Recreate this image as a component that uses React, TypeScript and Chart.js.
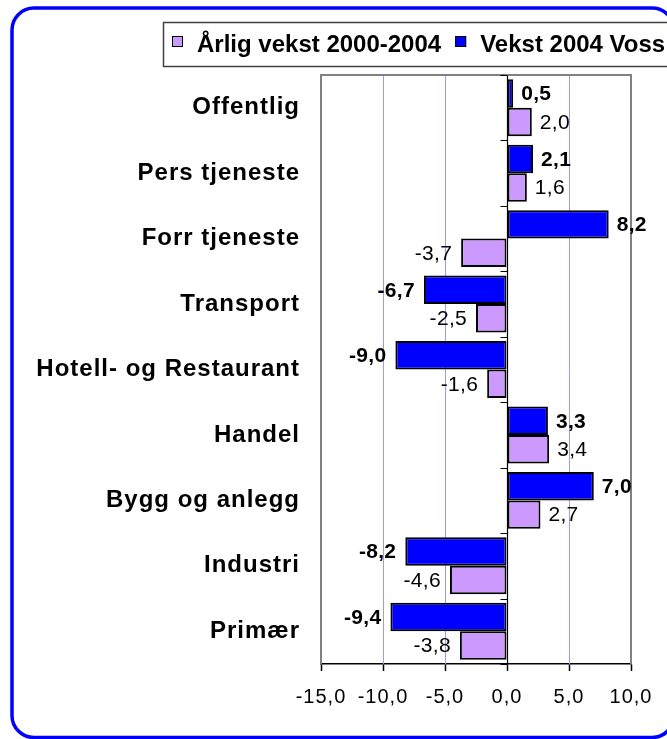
import { useEffect, useRef } from 'react';
import { Chart, registerables } from 'chart.js';

Chart.register(...registerables);

const categories = [
  'Offentlig',
  'Pers tjeneste',
  'Forr tjeneste',
  'Transport',
  'Hotell- og Restaurant',
  'Handel',
  'Bygg og anlegg',
  'Industri',
  'Primær',
];
const seriesNames = ['Årlig vekst 2000-2004', 'Vekst 2004 Voss'];
const annualGrowth = [2.0, 1.6, -3.7, -2.5, -1.6, 3.4, 2.7, -4.6, -3.8];
const vossGrowth = [0.5, 2.1, 8.2, -6.7, -9.0, 3.3, 7.0, -8.2, -9.4];
const xTickValues = [-15, -10, -5, 0, 5, 10];

const LAVENDER = '#CC99FF';
const BLUE = '#0000FF';
const GRID_BLUE = '#9999FF';
const FONT = "'Liberation Sans', Arial, Helvetica, sans-serif";
const fmt = (v: number) => v.toFixed(1).replace('.', ',');

const tickValueAt = (c: any) => {
  if (c && c.tick && typeof c.tick.value === 'number') return c.tick.value;
  if (c && typeof c.index === 'number') return xTickValues[c.index];
  return null;
};

const spacingPlugin = {
  id: 'spacing',
  beforeDraw(chart: any) {
    (chart.ctx as any).letterSpacing = '1px';
  },
};

const plotBorderPlugin = {
  id: 'plotBorder',
  beforeDatasetsDraw(chart: any) {
    const { ctx, chartArea: a } = chart;
    const xs = chart.scales.x;
    ctx.save();
    // inner vertical gridlines (light blue)
    ctx.strokeStyle = GRID_BLUE;
    ctx.lineWidth = 1;
    xTickValues.forEach((v) => {
      if (v === 0 || v === xTickValues[0] || v === xTickValues[xTickValues.length - 1]) return;
      const x = Math.round(xs.getPixelForValue(v)) + 0.5;
      ctx.beginPath();
      ctx.moveTo(x, a.top);
      ctx.lineTo(x, a.bottom);
      ctx.stroke();
    });
    // zero line
    ctx.strokeStyle = '#000';
    ctx.lineWidth = 1.2;
    const x0 = Math.round(xs.getPixelForValue(0)) + 0.5;
    ctx.beginPath();
    ctx.moveTo(x0, a.top);
    ctx.lineTo(x0, a.bottom);
    ctx.stroke();
    // plot border
    ctx.strokeStyle = '#808080';
    ctx.lineWidth = 2;
    ctx.beginPath();
    ctx.moveTo(a.left, a.bottom);
    ctx.lineTo(a.left, a.top);
    ctx.lineTo(a.right, a.top);
    ctx.lineTo(a.right, a.bottom);
    ctx.stroke();
    ctx.restore();
  },
};

const zeroTicksPlugin = {
  id: 'zeroTicks',
  afterDatasetsDraw(chart: any) {
    const { ctx } = chart;
    const xs = chart.scales.x;
    const ys = chart.scales.y;
    const x0 = Math.round(xs.getPixelForValue(0)) + 0.5;
    ctx.save();
    ctx.strokeStyle = '#000';
    ctx.lineWidth = 1;
    for (let i = 0; i <= categories.length; i++) {
      const y = Math.round(ys.getPixelForValue(i - 0.5)) + 0.5;
      ctx.beginPath();
      ctx.moveTo(x0 - 7, y);
      ctx.lineTo(x0, y);
      ctx.stroke();
    }
    ctx.restore();
  },
};

const valueLabelPlugin = {
  id: 'valueLabels',
  afterDatasetsDraw(chart: any) {
    const { ctx } = chart;
    ctx.save();
    (ctx as any).letterSpacing = '0.3px';
    ctx.fillStyle = '#000';
    ctx.textBaseline = 'middle';
    chart.data.datasets.forEach((ds: any, di: number) => {
      const meta = chart.getDatasetMeta(di);
      const bold = di === 0;
      ctx.font = `${bold ? 'bold ' : ''}21px ${FONT}`;
      meta.data.forEach((el: any, i: number) => {
        const v = ds.data[i];
        const text = fmt(v);
        if (v >= 0) {
          ctx.textAlign = 'left';
          ctx.fillText(text, el.x + 8, el.y + 1);
        } else {
          ctx.textAlign = 'right';
          ctx.fillText(text, el.x - 9, el.y + 1);
        }
      });
    });
    ctx.restore();
  },
};

const frameLegendPlugin = {
  id: 'frameLegend',
  afterDraw(chart: any) {
    const { ctx } = chart;
    ctx.save();
    (ctx as any).letterSpacing = '0px';
    // outer rounded frame
    ctx.strokeStyle = BLUE;
    ctx.lineWidth = 3.5;
    ctx.beginPath();
    (ctx as any).roundRect(12, 8, 662, 729.5, 22);
    ctx.stroke();

    // legend box
    ctx.strokeStyle = '#404040';
    ctx.lineWidth = 1.5;
    ctx.strokeRect(163.5, 22.5, 540, 44);

    ctx.font = `bold 24px ${FONT}`;
    ctx.textBaseline = 'middle';
    ctx.textAlign = 'left';
    const items = [
      { text: seriesNames[0], color: LAVENDER },
      { text: seriesNames[1], color: BLUE },
    ];
    let x = 172;
    items.forEach((it) => {
      ctx.fillStyle = it.color;
      ctx.fillRect(x, 36, 11, 11);
      ctx.strokeStyle = '#000';
      ctx.lineWidth = 1;
      ctx.strokeRect(x + 0.5, 36.5, 10, 10);
      ctx.fillStyle = '#000';
      ctx.fillText(it.text, x + 25, 45);
      x += 25 + ctx.measureText(it.text).width + 14;
    });
    ctx.restore();
  },
};

export default function App() {
  const ref = useRef<HTMLCanvasElement>(null);
  useEffect(() => {
    const canvas = ref.current!;
    const chart = new Chart(canvas, {
      type: 'bar',
      data: {
        labels: categories,
        datasets: [
          {
            label: seriesNames[1],
            data: vossGrowth,
            backgroundColor: BLUE,
            borderColor: '#000',
            borderWidth: 2,
            borderSkipped: false,
          },
          {
            label: seriesNames[0],
            data: annualGrowth,
            backgroundColor: LAVENDER,
            borderColor: '#000',
            borderWidth: 2,
            borderSkipped: false,
          },
        ],
      },
      options: {
        indexAxis: 'y',
        responsive: false,
        animation: false,
        devicePixelRatio: 1,
        layout: { padding: { top: 75, right: 36, left: 0, bottom: 0 } },
        datasets: { bar: { categoryPercentage: 0.87, barPercentage: 1 } },
        plugins: { legend: { display: false }, tooltip: { enabled: false } },
        scales: {
          x: {
            min: -15,
            max: 10,
            afterBuildTicks: (s: any) => {
              s.ticks = xTickValues.map((v) => ({ value: v }));
            },
            afterFit: (s: any) => {
              s.height = 75;
            },
            ticks: {
              callback: (v: any) => fmt(Number(v)),
              color: '#000',
              font: { family: FONT, size: 20 },
              padding: 14,
              maxRotation: 0,
              autoSkip: false,
            },
            grid: {
              drawOnChartArea: false,
              color: '#000',
              tickColor: '#000',
              tickWidth: 1.5,
              tickLength: 7,
            },
            border: { display: true, color: '#000', width: 1.5 },
          },
          y: {
            afterFit: (s: any) => {
              s.width = 321;
            },
            ticks: {
              color: '#000',
              font: { family: FONT, size: 24, weight: 'bold' },
              padding: 21,
              autoSkip: false,
            },
            grid: { display: false, drawTicks: false },
            border: { display: false },
          },
        },
      },
      plugins: [spacingPlugin, plotBorderPlugin, zeroTicksPlugin, valueLabelPlugin, frameLegendPlugin],
    } as any);
    return () => chart.destroy();
  }, []);
  return (
    <div
      style={{
        position: 'fixed',
        left: 0,
        top: 0,
        width: 667,
        height: 739,
        overflow: 'hidden',
        background: '#fff',
      }}
    >
      <canvas ref={ref} width={667} height={739} style={{ display: 'block', width: 667, height: 739 }} />
    </div>
  );
}
